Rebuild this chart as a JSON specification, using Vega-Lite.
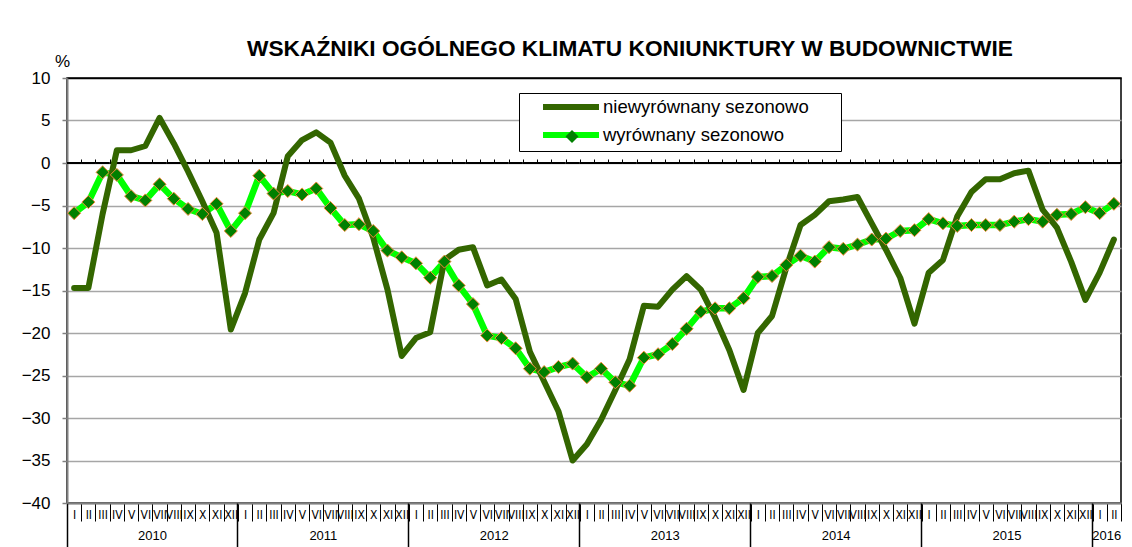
{
  "$schema": "https://vega.github.io/schema/vega-lite/v6.json",
  "width": 1054,
  "height": 425,
  "autosize": {"type": "none"},
  "padding": {"left": 67, "top": 78, "right": 11, "bottom": 44},
  "background": "white",
  "title": {
    "text": "WSKAŹNIKI OGÓLNEGO KLIMATU KONIUNKTURY W BUDOWNICTWIE",
    "frame": "group",
    "anchor": "middle",
    "dx": 36,
    "offset": -9,
    "fontSize": 22.7,
    "fontWeight": "bold",
    "font": "Liberation Sans",
    "color": "#000000"
  },
  "config": {
    "font": "Liberation Sans",
    "view": {"stroke": "#000000", "strokeWidth": 1.5},
    "axis": {"labelColor": "#000000", "titleColor": "#000000"}
  },
  "datasets": {
    "d": [
      {"m": "2010-01", "niewyrównany sezonowo": -14.7, "wyrównany sezonowo": -5.9},
      {"m": "2010-02", "niewyrównany sezonowo": -14.7, "wyrównany sezonowo": -4.6},
      {"m": "2010-03", "niewyrównany sezonowo": -6.0, "wyrównany sezonowo": -1.1},
      {"m": "2010-04", "niewyrównany sezonowo": 1.5, "wyrównany sezonowo": -1.4},
      {"m": "2010-05", "niewyrównany sezonowo": 1.5, "wyrównany sezonowo": -3.9},
      {"m": "2010-06", "niewyrównany sezonowo": 2.0, "wyrównany sezonowo": -4.4},
      {"m": "2010-07", "niewyrównany sezonowo": 5.3, "wyrównany sezonowo": -2.5},
      {"m": "2010-08", "niewyrównany sezonowo": 2.3, "wyrównany sezonowo": -4.2},
      {"m": "2010-09", "niewyrównany sezonowo": -1.0, "wyrównany sezonowo": -5.4},
      {"m": "2010-10", "niewyrównany sezonowo": -4.5, "wyrównany sezonowo": -6.0},
      {"m": "2010-11", "niewyrównany sezonowo": -8.2, "wyrównany sezonowo": -4.8},
      {"m": "2010-12", "niewyrównany sezonowo": -19.6, "wyrównany sezonowo": -8.0},
      {"m": "2011-01", "niewyrównany sezonowo": -15.3, "wyrównany sezonowo": -5.9},
      {"m": "2011-02", "niewyrównany sezonowo": -9.0, "wyrównany sezonowo": -1.5},
      {"m": "2011-03", "niewyrównany sezonowo": -5.9, "wyrównany sezonowo": -3.6},
      {"m": "2011-04", "niewyrównany sezonowo": 0.8, "wyrównany sezonowo": -3.3},
      {"m": "2011-05", "niewyrównany sezonowo": 2.7, "wyrównany sezonowo": -3.7},
      {"m": "2011-06", "niewyrównany sezonowo": 3.6, "wyrównany sezonowo": -3.0},
      {"m": "2011-07", "niewyrównany sezonowo": 2.4, "wyrównany sezonowo": -5.3},
      {"m": "2011-08", "niewyrównany sezonowo": -1.5, "wyrównany sezonowo": -7.3},
      {"m": "2011-09", "niewyrównany sezonowo": -4.2, "wyrównany sezonowo": -7.2},
      {"m": "2011-10", "niewyrównany sezonowo": -8.8, "wyrównany sezonowo": -8.0},
      {"m": "2011-11", "niewyrównany sezonowo": -14.9, "wyrównany sezonowo": -10.3},
      {"m": "2011-12", "niewyrównany sezonowo": -22.7, "wyrównany sezonowo": -11.1},
      {"m": "2012-01", "niewyrównany sezonowo": -20.6, "wyrównany sezonowo": -11.8},
      {"m": "2012-02", "niewyrównany sezonowo": -19.9, "wyrównany sezonowo": -13.5},
      {"m": "2012-03", "niewyrównany sezonowo": -11.4, "wyrównany sezonowo": -11.6},
      {"m": "2012-04", "niewyrównany sezonowo": -10.2, "wyrównany sezonowo": -14.4},
      {"m": "2012-05", "niewyrównany sezonowo": -9.9, "wyrównany sezonowo": -16.6},
      {"m": "2012-06", "niewyrównany sezonowo": -14.4, "wyrównany sezonowo": -20.3},
      {"m": "2012-07", "niewyrównany sezonowo": -13.7, "wyrównany sezonowo": -20.6},
      {"m": "2012-08", "niewyrównany sezonowo": -16.0, "wyrównany sezonowo": -21.8},
      {"m": "2012-09", "niewyrównany sezonowo": -22.2, "wyrównany sezonowo": -24.2},
      {"m": "2012-10", "niewyrównany sezonowo": -25.7, "wyrównany sezonowo": -24.6},
      {"m": "2012-11", "niewyrównany sezonowo": -29.2, "wyrównany sezonowo": -24.0},
      {"m": "2012-12", "niewyrównany sezonowo": -35.0, "wyrównany sezonowo": -23.6},
      {"m": "2013-01", "niewyrównany sezonowo": -33.1, "wyrównany sezonowo": -25.2},
      {"m": "2013-02", "niewyrównany sezonowo": -30.2, "wyrównany sezonowo": -24.2},
      {"m": "2013-03", "niewyrównany sezonowo": -26.7, "wyrównany sezonowo": -25.8},
      {"m": "2013-04", "niewyrównany sezonowo": -23.1, "wyrównany sezonowo": -26.2},
      {"m": "2013-05", "niewyrównany sezonowo": -16.8, "wyrównany sezonowo": -22.9},
      {"m": "2013-06", "niewyrównany sezonowo": -16.9, "wyrównany sezonowo": -22.5},
      {"m": "2013-07", "niewyrównany sezonowo": -14.9, "wyrównany sezonowo": -21.3},
      {"m": "2013-08", "niewyrównany sezonowo": -13.3, "wyrównany sezonowo": -19.5},
      {"m": "2013-09", "niewyrównany sezonowo": -14.9, "wyrównany sezonowo": -17.5},
      {"m": "2013-10", "niewyrównany sezonowo": -18.2, "wyrównany sezonowo": -17.1},
      {"m": "2013-11", "niewyrównany sezonowo": -22.0, "wyrównany sezonowo": -17.1},
      {"m": "2013-12", "niewyrównany sezonowo": -26.7, "wyrównany sezonowo": -15.9},
      {"m": "2014-01", "niewyrównany sezonowo": -20.0, "wyrównany sezonowo": -13.4},
      {"m": "2014-02", "niewyrównany sezonowo": -18.0, "wyrównany sezonowo": -13.3},
      {"m": "2014-03", "niewyrównany sezonowo": -12.3, "wyrównany sezonowo": -12.0},
      {"m": "2014-04", "niewyrównany sezonowo": -7.3, "wyrównany sezonowo": -10.9},
      {"m": "2014-05", "niewyrównany sezonowo": -6.1, "wyrównany sezonowo": -11.6},
      {"m": "2014-06", "niewyrównany sezonowo": -4.5, "wyrównany sezonowo": -9.9},
      {"m": "2014-07", "niewyrównany sezonowo": -4.3, "wyrównany sezonowo": -10.1},
      {"m": "2014-08", "niewyrównany sezonowo": -4.0, "wyrównany sezonowo": -9.6},
      {"m": "2014-09", "niewyrównany sezonowo": -7.1, "wyrównany sezonowo": -9.0},
      {"m": "2014-10", "niewyrównany sezonowo": -10.2, "wyrównany sezonowo": -8.9},
      {"m": "2014-11", "niewyrównany sezonowo": -13.5, "wyrównany sezonowo": -8.0},
      {"m": "2014-12", "niewyrównany sezonowo": -18.9, "wyrównany sezonowo": -7.9},
      {"m": "2015-01", "niewyrównany sezonowo": -12.9, "wyrównany sezonowo": -6.6},
      {"m": "2015-02", "niewyrównany sezonowo": -11.4, "wyrównany sezonowo": -7.1},
      {"m": "2015-03", "niewyrównany sezonowo": -6.3, "wyrównany sezonowo": -7.4},
      {"m": "2015-04", "niewyrównany sezonowo": -3.4, "wyrównany sezonowo": -7.3},
      {"m": "2015-05", "niewyrównany sezonowo": -1.9, "wyrównany sezonowo": -7.3},
      {"m": "2015-06", "niewyrównany sezonowo": -1.9, "wyrównany sezonowo": -7.3},
      {"m": "2015-07", "niewyrównany sezonowo": -1.2, "wyrównany sezonowo": -6.9},
      {"m": "2015-08", "niewyrównany sezonowo": -0.9, "wyrównany sezonowo": -6.6},
      {"m": "2015-09", "niewyrównany sezonowo": -5.5, "wyrównany sezonowo": -6.9},
      {"m": "2015-10", "niewyrównany sezonowo": -7.6, "wyrównany sezonowo": -6.1},
      {"m": "2015-11", "niewyrównany sezonowo": -11.6, "wyrównany sezonowo": -6.0},
      {"m": "2015-12", "niewyrównany sezonowo": -16.1, "wyrównany sezonowo": -5.2},
      {"m": "2016-01", "niewyrównany sezonowo": -12.9, "wyrównany sezonowo": -5.9},
      {"m": "2016-02", "niewyrównany sezonowo": -9.0, "wyrównany sezonowo": -4.8}
    ]
  },
  "data": {"name": "d"},
  "resolve": {"axis": {"x": "independent"}},
  "layer": [
    {
      "mark": {"type": "bar", "color": "#000000"},
      "encoding": {
        "x": {
          "field": "m", "type": "ordinal",
          "scale": {"type": "band", "paddingInner": 0, "paddingOuter": 0},
          "axis": {
            "orient": "top", "offset": -85, "title": null, "tickBand": "extent",
            "tickSize": 4, "tickColor": "#000000", "tickWidth": 1,
            "labels": false, "domain": false, "grid": false
          }
        },
        "y": {
          "datum": 0.12, "type": "quantitative",
          "scale": {"domain": [-40, 10], "nice": false, "zero": false}
        },
        "y2": {"datum": -0.12}
      }
    },
    {
      "mark": {"type": "line", "strokeWidth": 6.5, "strokeJoin": "round", "strokeCap": "round"},
      "encoding": {
        "x": {
          "field": "m", "type": "ordinal", "bandPosition": 0.5,
          "scale": {"type": "band", "paddingInner": 0, "paddingOuter": 0},
          "axis": {
            "orient": "bottom", "title": null,
            "values": ["2010-06", "2011-06", "2012-06", "2013-06", "2014-06", "2015-06", "2016-01"],
            "ticks": false, "domain": false, "grid": false,
            "labelExpr": "substring(datum.value, 0, 4)",
            "labelFontSize": 13, "labelBaseline": "middle", "labelPadding": 32,
            "labelOffset": 7.12, "labelOverlap": false, "labelBound": false,
            "labelFlush": false, "labelAngle": 0
          }
        },
        "y": {"field": "wyrównany sezonowo", "type": "quantitative", "scale": {"domain": [-40, 10], "nice": false, "zero": false}},
        "color": {
          "datum": "wyrównany sezonowo", "type": "nominal",
          "scale": {"domain": ["niewyrównany sezonowo", "wyrównany sezonowo"], "range": ["#336600", "#00FF00"]},
          "legend": {
            "orient": "none", "legendX": 452, "legendY": 15, "title": null,
            "symbolType": "M1.43,0H9.43", "symbolSize": 196, "symbolStrokeWidth": 6,
            "labelOffset": 60, "labelFontSize": 18.5, "labelFont": "Liberation Sans",
            "labelColor": "#000000", "labelLimit": 600,
            "labelExpr": "datum.label + '\u2800\u2800'",
            "rowPadding": 4, "padding": 4,
            "strokeColor": "#000000", "fillColor": "#FFFFFF"
          }
        }
      }
    },
    {
      "mark": {"type": "line", "strokeWidth": 6, "strokeJoin": "round", "strokeCap": "round"},
      "encoding": {
        "x": {
          "field": "m", "type": "ordinal", "bandPosition": 0.5,
          "scale": {"type": "band", "paddingInner": 0, "paddingOuter": 0},
          "axis": {
            "orient": "bottom", "title": null, "tickBand": "extent",
            "tickSize": 18, "tickColor": "#000000", "tickWidth": 1,
            "domainColor": "#808080", "domainWidth": 2, "grid": false,
            "labelExpr": "['I','II','III','IV','V','VI','VII','VIII','IX','X','XI','XII'][toNumber(substring(datum.value, 5, 7)) - 1]",
            "labelFont": "Liberation Sans Narrow, DejaVu Sans Condensed, Liberation Sans",
            "labelFontSize": 12, "labelBaseline": "middle", "labelPadding": -7,
            "labelOverlap": false, "labelBound": false, "labelFlush": false, "labelAngle": 0
          }
        },
        "y": {
          "field": "niewyrównany sezonowo", "type": "quantitative",
          "scale": {"domain": [-40, 10], "nice": false, "zero": false},
          "axis": {
            "title": "%", "titleAngle": 0, "titleX": -5, "titleY": -17,
            "titleAlign": "center", "titleBaseline": "middle",
            "titleFontSize": 17, "titleFontWeight": "normal",
            "values": [-40, -35, -30, -25, -20, -15, -10, -5, 0, 5, 10],
            "grid": true,
            "gridColor": {"condition": {"test": "datum.value === 10", "value": "#000000"}, "value": "#A6A6A6"},
            "gridWidth": 1.5,
            "domainColor": "#808080", "domainWidth": 2,
            "tickColor": "#808080", "tickSize": 5, "tickWidth": 1.5,
            "labelFontSize": 17, "labelPadding": 12
          }
        },
        "color": {
          "datum": "niewyrównany sezonowo", "type": "nominal",
          "scale": {"domain": ["niewyrównany sezonowo", "wyrównany sezonowo"], "range": ["#336600", "#00FF00"]}
        }
      }
    },
    {
      "mark": {"type": "point", "filled": true, "size": 170, "fill": "#008000", "stroke": "#F58A3A", "strokeWidth": 1, "opacity": 1},
      "encoding": {
        "x": {
          "field": "m", "type": "ordinal", "bandPosition": 0.5,
          "scale": {"type": "band", "paddingInner": 0, "paddingOuter": 0},
          "axis": {
            "orient": "bottom", "title": null,
            "values": ["2010-01", "2011-01", "2012-01", "2013-01", "2014-01", "2015-01", "2016-01"],
            "bandPosition": 0, "tickSize": 44, "tickColor": "#000000", "tickWidth": 1.5,
            "labels": false, "domain": false, "grid": false
          }
        },
        "y": {"field": "wyrównany sezonowo", "type": "quantitative", "scale": {"domain": [-40, 10], "nice": false, "zero": false}},
        "shape": {
          "datum": "wyrównany sezonowo", "type": "nominal",
          "scale": {"domain": ["wyrównany sezonowo"], "range": ["diamond"]},
          "legend": {
            "orient": "none", "legendX": 497.5, "legendY": 51, "title": null,
            "symbolSize": 170, "symbolFillColor": "#008000", "symbolStrokeColor": "#F58A3A",
            "symbolStrokeWidth": 1, "labelExpr": "''", "labelFontSize": 1,
            "padding": 0, "zindex": 1
          }
        }
      }
    }
  ]
}
